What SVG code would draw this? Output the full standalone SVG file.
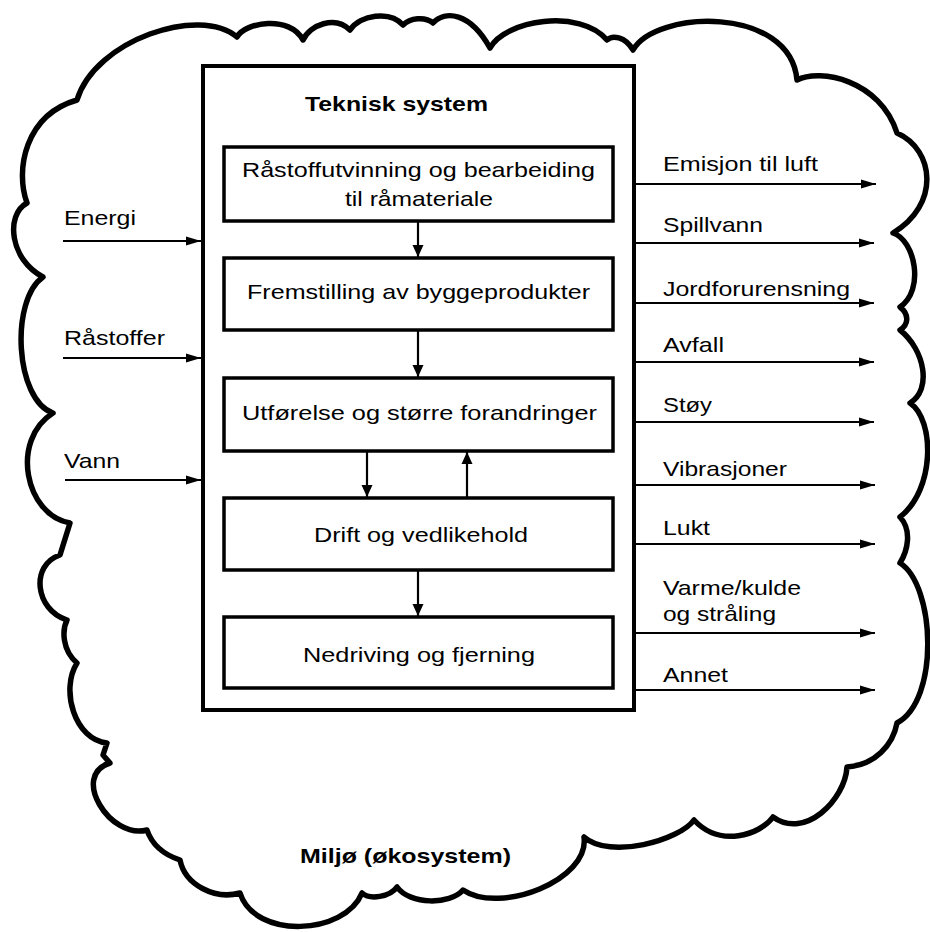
<svg xmlns="http://www.w3.org/2000/svg" width="930" height="932" viewBox="0 0 930 932">
<style>
.cloud{fill:none;stroke:#000;stroke-width:5.5;stroke-linejoin:round;stroke-linecap:round}
.outer{fill:#fff;stroke:#000;stroke-width:4}
.box{fill:#fff;stroke:#000;stroke-width:3.5}
.conn line{stroke:#000;stroke-width:2.2}
text{font-family:"Liberation Sans",Arial,sans-serif;font-size:21px;fill:#000}
.c{text-anchor:middle}
.b{font-weight:bold}
</style>
<defs>
<marker id="ah" viewBox="0 0 15 10" refX="15" refY="5" markerWidth="15" markerHeight="10" markerUnits="userSpaceOnUse" orient="auto">
<path d="M0,0.5 L15,5 L0,9.5 z" fill="#000"/>
</marker>
<marker id="ahs" viewBox="0 0 12 12" refX="12" refY="6" markerWidth="12" markerHeight="12" markerUnits="userSpaceOnUse" orient="auto">
<path d="M0,0.5 L12,6 L0,11.5 z" fill="#000"/>
</marker>
</defs>
<rect width="930" height="932" fill="#fff"/>
<g id="environment">
<path class="cloud" d="M237,37 C245,22 290,15 303,40 C310,25 335,15 350,30 C360,15 390,10 403,25 C410,18 425,16 433,23 C445,10 470,12 490,48 C505,20 580,8 607,40 C612,35 625,36 633,50 C655,10 790,5 797,80 C820,68 880,80 897,133 C935,150 940,205 893,233 C915,240 925,290 900,307 C910,315 908,325 900,330 C925,350 932,390 910,403 C935,420 935,490 900,517 C912,530 908,550 900,563 C935,585 940,700 897,723 C893,745 875,765 847,767 C845,800 805,840 773,817 C760,835 720,848 694,820 C680,840 610,860 584,837 C590,880 500,915 463,890 C450,905 410,905 397,887 C390,897 370,900 362,893 C345,935 255,940 240,893 C215,900 185,885 180,860 C165,855 152,845 147,830 C110,840 70,775 110,763 L103,755 L107,743 C75,740 60,690 77,663 C62,650 62,630 67,620 C35,610 30,565 60,555 L70,523 C25,515 10,440 53,413 C15,400 10,300 43,277 C10,260 5,215 27,203 C15,170 25,115 77,100 C95,40 200,5 237,37 Z"/>
<text class="b" x="300" y="863" textLength="211" lengthAdjust="spacingAndGlyphs">Miljø (økosystem)</text>
</g>
<g id="teknisk-system">
<rect class="outer" x="203" y="66" width="431" height="644"/>
<text class="b" x="305" y="111" textLength="183" lengthAdjust="spacingAndGlyphs">Teknisk system</text>
</g>
<g id="n1">
<rect class="box" x="224" y="147" width="389" height="74"/>
<text x="242" y="177" textLength="353" lengthAdjust="spacingAndGlyphs">Råstoffutvinning og bearbeiding</text>
<text x="345" y="206" textLength="148" lengthAdjust="spacingAndGlyphs">til råmateriale</text>
</g>
<g id="n2">
<rect class="box" x="224" y="258" width="389" height="72"/>
<text x="247" y="299" textLength="343" lengthAdjust="spacingAndGlyphs">Fremstilling av byggeprodukter</text>
</g>
<g id="n3">
<rect class="box" x="224" y="378" width="389" height="73"/>
<text x="242" y="420" textLength="355" lengthAdjust="spacingAndGlyphs">Utførelse og større forandringer</text>
</g>
<g id="n4">
<rect class="box" x="224" y="498" width="389" height="72"/>
<text x="314" y="542" textLength="214" lengthAdjust="spacingAndGlyphs">Drift og vedlikehold</text>
</g>
<g id="n5">
<rect class="box" x="224" y="617" width="389" height="71"/>
<text x="303" y="662" textLength="232" lengthAdjust="spacingAndGlyphs">Nedriving og fjerning</text>
</g>
<g id="connectors" class="conn">
<line x1="418" y1="222" x2="418" y2="257" marker-end="url(#ahs)"/>
<line x1="418" y1="331" x2="418" y2="377" marker-end="url(#ahs)"/>
<line x1="367" y1="452" x2="367" y2="497" marker-end="url(#ahs)"/>
<line x1="467" y1="497" x2="467" y2="452" marker-end="url(#ahs)"/>
<line x1="418" y1="571" x2="418" y2="616" marker-end="url(#ahs)"/>
<line x1="63" y1="241" x2="201" y2="241" marker-end="url(#ah)"/>
<line x1="63" y1="358" x2="201" y2="358" marker-end="url(#ah)"/>
<line x1="65" y1="480" x2="201" y2="480" marker-end="url(#ah)"/>
<line x1="636" y1="184" x2="876" y2="184" marker-end="url(#ah)"/>
<line x1="636" y1="243" x2="874" y2="243" marker-end="url(#ah)"/>
<line x1="636" y1="303" x2="874" y2="303" marker-end="url(#ah)"/>
<line x1="636" y1="362" x2="874" y2="362" marker-end="url(#ah)"/>
<line x1="636" y1="422" x2="874" y2="422" marker-end="url(#ah)"/>
<line x1="636" y1="485" x2="875" y2="485" marker-end="url(#ah)"/>
<line x1="636" y1="544" x2="875" y2="544" marker-end="url(#ah)"/>
<line x1="636" y1="633" x2="875" y2="633" marker-end="url(#ah)"/>
<line x1="636" y1="690" x2="875" y2="690" marker-end="url(#ah)"/>
</g>
<g id="labels">
<text x="64" y="225" textLength="72" lengthAdjust="spacingAndGlyphs">Energi</text>
<text x="64" y="345" textLength="101" lengthAdjust="spacingAndGlyphs">Råstoffer</text>
<text x="64" y="468" textLength="56" lengthAdjust="spacingAndGlyphs">Vann</text>
<text x="663" y="171" textLength="155" lengthAdjust="spacingAndGlyphs">Emisjon til luft</text>
<text x="663" y="232" textLength="100" lengthAdjust="spacingAndGlyphs">Spillvann</text>
<text x="663" y="296" textLength="187" lengthAdjust="spacingAndGlyphs">Jordforurensning</text>
<text x="663" y="352" textLength="61" lengthAdjust="spacingAndGlyphs">Avfall</text>
<text x="663" y="412" textLength="49" lengthAdjust="spacingAndGlyphs">Støy</text>
<text x="663" y="476" textLength="124" lengthAdjust="spacingAndGlyphs">Vibrasjoner</text>
<text x="663" y="535" textLength="47" lengthAdjust="spacingAndGlyphs">Lukt</text>
<text x="663" y="595" textLength="138" lengthAdjust="spacingAndGlyphs">Varme/kulde</text>
<text x="663" y="621" textLength="113" lengthAdjust="spacingAndGlyphs">og stråling</text>
<text x="663" y="682" textLength="65" lengthAdjust="spacingAndGlyphs">Annet</text>
</g>
</svg>
